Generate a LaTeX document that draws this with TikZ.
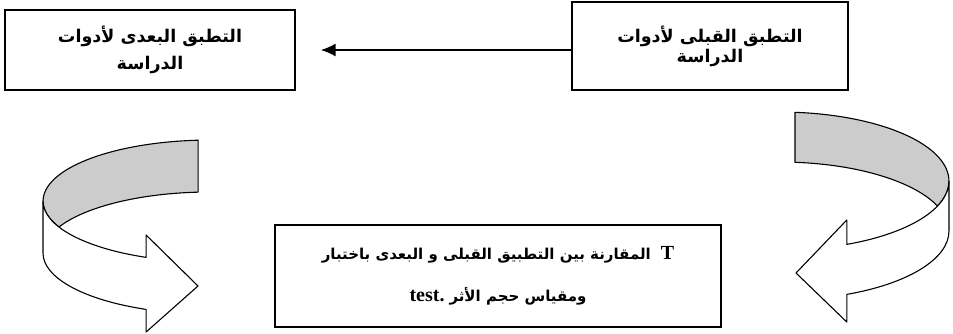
\documentclass[tikz,border=0pt]{standalone}
\usepackage{fontspec}
\setmainfont{Liberation Serif}
\newfontfamily\arabicfont[Script=Arabic,BoldFont={DejaVu Sans Bold}]{DejaVu Sans}
\TeXXeTstate=1
\usetikzlibrary{arrows.meta}

\begin{document}
\begin{tikzpicture}[x=1pt,y=-1pt,
                box/.style={draw, line width=1.4pt, align=center, inner sep=0pt},
                ribbon/.style={draw, line width=1.1pt, line join=round},
                back/.style={ribbon, fill=gray!40},
                front/.style={ribbon, fill=white}]
                \useasboundingbox (0,0) rectangle (953,333);
                % the three boxes
                \node[box, minimum width=276pt, minimum height=88pt,
                      font=\arabicfont\bfseries\fontsize{17.5}{20}\selectfont] (pretest) at (710,46)
                      {\hbox{\beginR التطبق القبلى لأدوات\endR}\\ \hbox{\beginR الدراسة\endR}};
                \node[box, minimum width=290pt, minimum height=80pt,
                      font=\arabicfont\bfseries\fontsize{17.5}{27}\selectfont] (posttest) at (150,50)
                      {\hbox{\beginR التطبق البعدى لأدوات\endR}\\ \hbox{\beginR الدراسة\endR}};
                \node[box, minimum width=446pt, minimum height=102pt,
                      font=\bfseries\fontsize{20}{42}\selectfont] (compare) at (498,276)
                      {\hbox{{\arabicfont\fontsize{15}{42}\selectfont\beginR المقارنة بين التطبيق القبلى و البعدى باختبار\endR}\ \ T}\\
                       \hbox{test.\ {\arabicfont\fontsize{15}{42}\selectfont\beginR ومقياس حجم الأثر\endR}}};
                \draw[-{Latex[length=15pt,width=13pt]}, line width=1.6pt, shorten >=25pt]
                      (pretest.west |- posttest.east) -- (posttest.east);
                % left curved arrow
                \path[back] (198.1,140.2) arc[start angle=265.9, end angle=154.8, x radius=167, y radius=61]
                      arc[start angle=205.2, end angle=265.9, x radius=167, y radius=61] -- cycle;
                \path[front] (43,201) arc[start angle=180, end angle=112.5, x radius=167, y radius=61]
                      -- (146.1,235) -- (198,286) -- (146.1,332) -- (146.1,309.4)
                      arc[start angle=112.5, end angle=180, x radius=167, y radius=61] -- cycle;
                % right curved arrow
                \path[back] (795,112.3) arc[start angle=275.1, end angle=381.24, x radius=169, y radius=69]
                      arc[start angle=338.76, end angle=275.1, x radius=169, y radius=69] -- cycle;
                \path[front] (949,181) arc[start angle=0, end angle=66.7, x radius=169, y radius=69]
                      -- (846.8,220) -- (796,273) -- (846.8,322) -- (846.8,294.4)
                      arc[start angle=66.7, end angle=0, x radius=169, y radius=69] -- cycle;
\end{tikzpicture}
\end{document}
